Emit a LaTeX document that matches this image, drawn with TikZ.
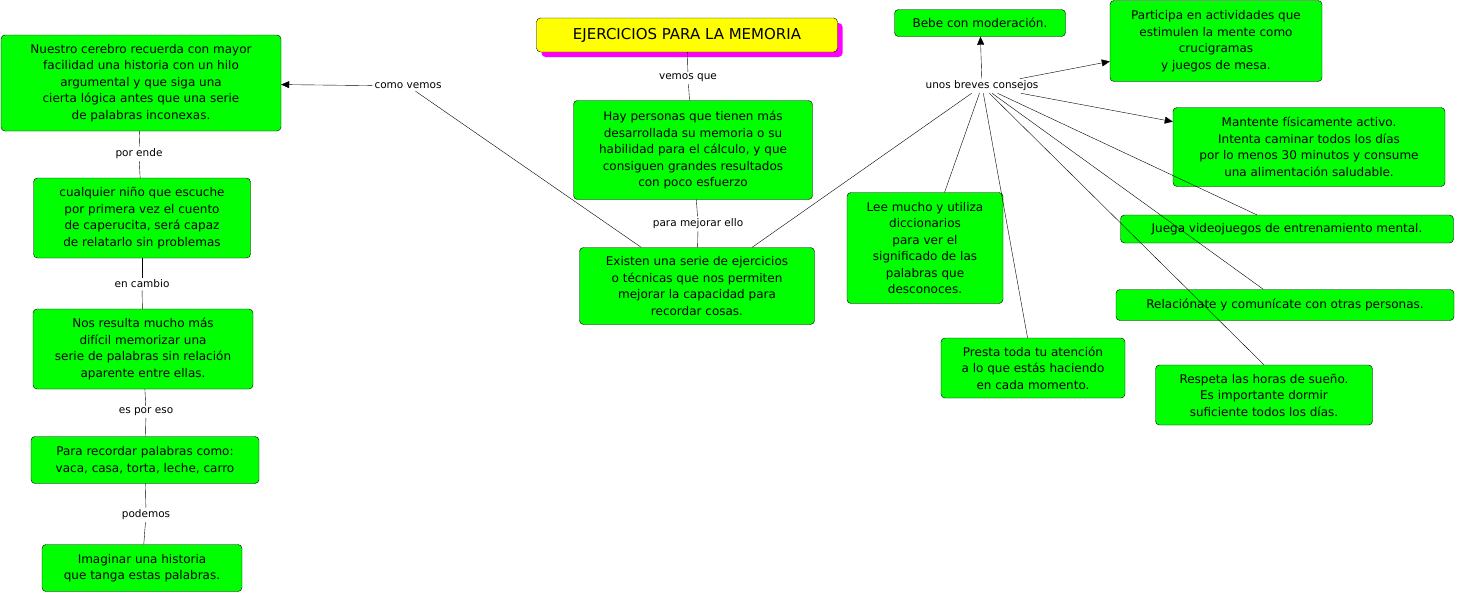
\documentclass[tikz,border=0pt]{standalone}
\usepackage{fontspec}
\setmainfont{DejaVu Sans}
\usetikzlibrary{arrows.meta,shadows}
\definecolor{cmgreen}{RGB}{0,255,0}
\definecolor{cmyellow}{RGB}{255,255,0}
\definecolor{cmpink}{RGB}{255,0,255}
\tikzset{%
  >={Triangle[width=7pt,length=8pt]},
  % Specifications for style of nodes:
           base/.style = {rectangle, rounded corners=4pt, draw=black, thin,
                          align=center, inner sep=3pt,
                          font=\fontsize{12}{16.5}\selectfont},
       greenbox/.style = {base, fill=cmgreen},
       titlebox/.style = {base, fill=cmyellow, font=\fontsize{15}{18}\selectfont,
                          drop shadow={shadow xshift=5pt, shadow yshift=-5pt,
                          fill=cmpink, opacity=1}},
       linklbl/.style = {inner sep=2pt, font=\fontsize{10.5}{13}\selectfont},
}
\begin{document}
\begin{tikzpicture}[x=1pt,y=-1pt]
  \useasboundingbox (0,0) rectangle (1457,595);
  % Specification of nodes (position, etc.)

  \node (title) [titlebox, minimum width=301pt, minimum height=34pt] at (687,35) {EJERCICIOS PARA LA MEMORIA};
  \node (cerebro) [greenbox, minimum width=280pt, minimum height=96pt] at (141,83)
    {Nuestro cerebro recuerda con mayor\\ facilidad una historia con un hilo\\ argumental y que siga una\\ cierta lógica antes que una serie\\ de palabras inconexas.};
  \node (nino) [greenbox, minimum width=217pt, minimum height=80pt] at (142,218)
    {cualquier niño que escuche\\ por primera vez el cuento\\ de caperucita, será capaz\\ de relatarlo sin problemas};
  \node (dificil) [greenbox, minimum width=220pt, minimum height=80pt] at (143,349)
    {Nos resulta mucho más\\ difícil memorizar una\\ serie de palabras sin relación\\ aparente entre ellas.};
  \node (palabras) [greenbox, minimum width=228pt, minimum height=47pt] at (145,460)
    {Para recordar palabras como:\\ vaca, casa, torta, leche, carro};
  \node (imaginar) [greenbox, minimum width=200pt, minimum height=47pt] at (142,568)
    {Imaginar una historia\\ que tanga estas palabras.};
  \node (personas) [greenbox, minimum width=239pt, minimum height=99pt] at (693,150)
    {Hay personas que tienen más\\ desarrollada su memoria o su\\ habilidad para el cálculo, y que\\ consiguen grandes resultados\\ con poco esfuerzo};
  \node (existen) [greenbox, minimum width=235pt, minimum height=77pt] at (697,286)
    {Existen una serie de ejercicios\\ o técnicas que nos permiten\\ mejorar la capacidad para\\ recordar cosas.};
  \node (bebe) [greenbox, minimum width=171pt, minimum height=27pt] at (980,23) {Bebe con moderación.};
  \node (participa) [greenbox, minimum width=212pt, minimum height=81pt] at (1216,41)
    {Participa en actividades que\\ estimulen la mente como\\ crucigramas\\ y juegos de mesa.};
  \node (mantente) [greenbox, minimum width=272pt, minimum height=79pt] at (1309,147)
    {Mantente físicamente activo.\\ Intenta caminar todos los días\\ por lo menos 30 minutos y consume\\ una alimentación saludable.};
  \node (juega) [greenbox, minimum width=333pt, minimum height=28pt] at (1287,229) {Juega videojuegos de entrenamiento mental.};
  \node (relacion) [greenbox, minimum width=338pt, minimum height=31pt] at (1285,305) {Relaciónate y comunícate con otras personas.};
  \node (respeta) [greenbox, minimum width=217pt, minimum height=60pt] at (1264,395)
    {Respeta las horas de sueño.\\ Es importante dormir\\ suficiente todos los días.};
  \node (presta) [greenbox, minimum width=184pt, minimum height=60pt] at (1033,368)
    {Presta toda tu atención\\ a lo que estás haciendo\\ en cada momento.};
  \node (lee) [greenbox, minimum width=156pt, minimum height=111pt] at (925,248)
    {Lee mucho y utiliza\\ diccionarios\\ para ver el\\ significado de las\\ palabras que\\ desconoces.};

  \node (comovemos) [linklbl] at (408,86) {como vemos};
  \node (vemosque)  [linklbl] at (688,78) {vemos que};
  \node (mejorar)   [linklbl] at (698,224) {para mejorar ello};
  \node (consejos)  [linklbl] at (982,86) {unos breves consejos};
  \node (porende)   [linklbl] at (139,154) {por ende};
  \node (encambio)  [linklbl] at (142,284) {en cambio};
  \node (esporeso)  [linklbl] at (146,412) {es por eso};
  \node (podemos)   [linklbl] at (146,515) {podemos};

  \draw (title) -- (vemosque);
  \draw (vemosque) -- (personas);
  \draw (personas) -- (mejorar);
  \draw (mejorar) -- (existen);
  \draw (existen) -- (comovemos);
  \draw[->] (comovemos) -- (cerebro);
  \draw (existen) -- (consejos);
  \draw[->] (consejos) -- (bebe);
  \draw[->] (consejos) -- (participa);
  \draw[->] (consejos) -- (mantente);
  \draw (consejos) -- (juega);
  \draw (consejos) -- (relacion);
  \draw (consejos) -- (respeta.north);
  \draw (consejos) -- (presta);
  \draw (consejos) -- (lee);
  \draw (cerebro) -- (porende);
  \draw (porende) -- (nino);
  \draw (nino) -- (encambio);
  \draw (encambio) -- (dificil);
  \draw (dificil) -- (esporeso);
  \draw (esporeso) -- (palabras);
  \draw (palabras) -- (podemos);
  \draw (podemos) -- (imaginar);

\end{tikzpicture}
\end{document}
